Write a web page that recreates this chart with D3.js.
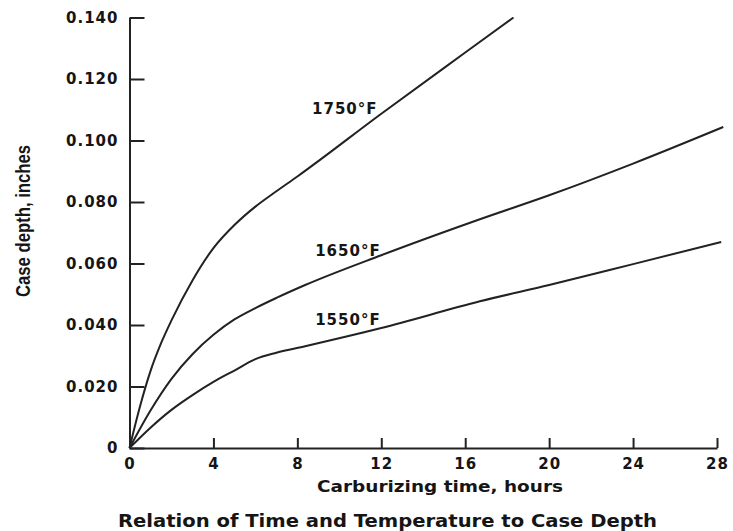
<!DOCTYPE html>
<html>
<head>
<meta charset="utf-8">
<script src="https://cdn.jsdelivr.net/npm/d3@7"></script>
<style>
  body { margin: 0; background: #fff; }
  .tick text { font-family: "DejaVu Sans", sans-serif; font-weight: bold; font-size: 15px; fill: #151515; letter-spacing: 1px; }
  .domain, .tick line { stroke: #222; stroke-width: 2px; }
</style>
</head>
<body>
<script>
// carburizing time in hours, case depth in inches
var xTicks = [0, 4, 8, 12, 16, 20, 24, 28];
var yTicks = [0, 0.02, 0.04, 0.06, 0.08, 0.10, 0.12, 0.14];
var yTickLabels = ["0", "0.020", "0.040", "0.060", "0.080", "0.100", "0.120", "0.140"];

var series = ["1750°F", "1650°F", "1550°F"];

var hours1750 = [0, 0.5, 1, 1.5, 2, 3, 4, 5, 6, 7, 8, 12, 16, 18.3];
var depth1750 = [0, 0.0135, 0.025, 0.034, 0.0415, 0.0545, 0.065, 0.0725, 0.0785, 0.0835, 0.0883, 0.1087, 0.1286, 0.140];

var hours1650 = [0, 1, 2, 3, 4, 5, 6, 7, 8.37, 12, 16.7, 20, 24, 28.3];
var depth1650 = [0, 0.0122, 0.0225, 0.0305, 0.0368, 0.0418, 0.0455, 0.0488, 0.053, 0.0627, 0.0744, 0.0822, 0.0925, 0.1044];

var hours1550 = [0, 1, 2, 3, 4, 5, 6, 7, 8.37, 12, 16.7, 20, 24, 28.2];
var depth1550 = [0, 0.0066, 0.0124, 0.0172, 0.0215, 0.0252, 0.0289, 0.031, 0.0331, 0.039, 0.0477, 0.053, 0.0598, 0.067];

// where each curve label sits (hours, depth)
var labelAt = [[8.7, 0.1085], [8.85, 0.0625], [8.85, 0.040]];

var svg = d3.select("body").append("svg")
      .attr("width", 733)
      .attr("height", 531);

var margin = {left: 129.5, right: 16, top: 17.5, bottom: 83};
var width = 733 - margin.left - margin.right;
var height = 531 - margin.top - margin.bottom;

var x = d3.scaleLinear().domain([0, 28]).range([0, width]);
var y = d3.scaleLinear().domain([0, 0.14]).range([height, 0]);

var g = svg.append("g")
    .attr("transform", "translate(" + margin.left + "," + margin.top + ")");

// axes, ticks pointing inward
g.append("g")
  .attr("transform", "translate(0," + height + ")")
  .call(d3.axisBottom(x).tickValues(xTicks).tickSizeInner(-10).tickSizeOuter(0).tickPadding(10));

g.append("g")
  .call(d3.axisLeft(y).tickValues(yTicks).tickSizeInner(-15).tickSizeOuter(0).tickPadding(11)
    .tickFormat(function(d, i) { return yTickLabels[i]; }));

var line = d3.line()
  .x(function(d) { return x(d[0]); })
  .y(function(d) { return y(d[1]); })
  .curve(d3.curveMonotoneX);

var curves = [
  d3.zip(hours1750, depth1750),
  d3.zip(hours1650, depth1650),
  d3.zip(hours1550, depth1550)
];

g.selectAll(".curve")
  .data(curves)
  .enter().append("path")
    .attr("class", "curve")
    .attr("fill", "none")
    .attr("stroke", "#222")
    .attr("stroke-width", 2)
    .attr("d", line);

g.selectAll(".lbl")
  .data(series)
  .enter().append("text")
    .attr("class", "lbl")
    .attr("x", function(d, i) { return x(labelAt[i][0]); })
    .attr("y", function(d, i) { return y(labelAt[i][1]); })
    .attr("font-family", "DejaVu Sans, sans-serif")
    .attr("font-weight", "bold")
    .attr("font-size", 15)
    .attr("letter-spacing", 1)
    .attr("fill", "#151515")
    .text(function(d) { return d; });

// axis titles
svg.append("text")
  .attr("x", 440)
  .attr("y", 492)
  .attr("text-anchor", "middle")
  .attr("font-family", "DejaVu Sans, sans-serif")
  .attr("font-weight", "bold")
  .attr("font-size", 15)
  .attr("textLength", 246)
  .attr("lengthAdjust", "spacingAndGlyphs")
  .attr("fill", "#151515")
  .text("Carburizing time, hours");

svg.append("text")
  .attr("transform", "translate(30,221) rotate(-90)")
  .attr("text-anchor", "middle")
  .attr("font-family", "Liberation Sans Narrow, Liberation Sans, sans-serif")
  .attr("font-weight", "bold")
  .attr("font-size", 20)
  .attr("textLength", 152)
  .attr("lengthAdjust", "spacingAndGlyphs")
  .attr("fill", "#151515")
  .text("Case depth, inches");

svg.append("text")
  .attr("x", 387.5)
  .attr("y", 527)
  .attr("text-anchor", "middle")
  .attr("font-family", "DejaVu Sans, sans-serif")
  .attr("font-weight", "bold")
  .attr("font-size", 17)
  .attr("textLength", 539)
  .attr("lengthAdjust", "spacingAndGlyphs")
  .attr("fill", "#151515")
  .text("Relation of Time and Temperature to Case Depth");
</script>
</body>
</html>
